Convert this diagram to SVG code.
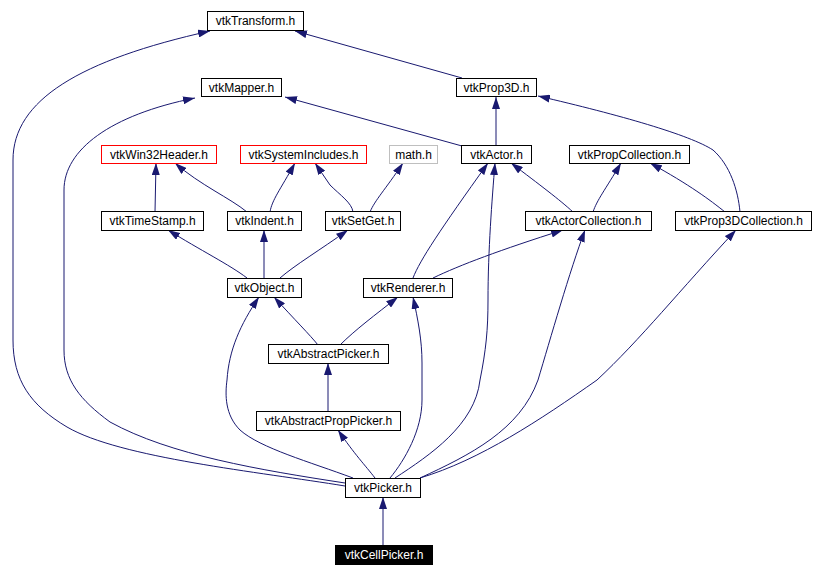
<svg xmlns="http://www.w3.org/2000/svg" width="813" height="576" viewBox="0 0 813 576">
<style>
.n rect{fill:#fff;stroke:#000;stroke-width:1}
.n text{font-family:"Liberation Sans",Arial,sans-serif;font-size:12px;text-anchor:middle;fill:#000}
.red rect{stroke:#ff0000}
.grey rect{stroke:#bfbfbf}
.root rect{fill:#000;stroke:#000}
.root text{fill:#fff}
.e path{fill:none;stroke:#191970;stroke-width:1;marker-end:url(#a)}
</style>
<defs>
<marker id="a" viewBox="0 0 12 8" refX="12" refY="4" markerWidth="12" markerHeight="8" markerUnits="userSpaceOnUse" orient="auto">
<path d="M0,0 L12,4 L0,8 z" fill="#191970"/>
</marker>
</defs>
<rect width="813" height="576" fill="#fff"/>
<g class="e" id="edges">
<path d="M345,486 C260,472 120,458 67,427 C30,405 13,380 13,340 L13,160 C13,100 80,60 210,31"/>
<path d="M345,483 C260,470 170,455 110,422 C80,400 64,380 64,350 L64,190 C64,150 110,115 195,98"/>
<path d="M462,78 L295,31"/>
<path d="M462,146 L285,97"/>
<path d="M496,146 L496,97"/>
<path d="M740,212 C738,190 730,165 713,150 C690,135 620,115 538,96"/>
<path d="M155,212 L156,163"/>
<path d="M247,212 C230,198 200,185 175,163"/>
<path d="M270,212 C272,200 280,190 295,163"/>
<path d="M353,212 C352,203 340,195 330,185 L315,163"/>
<path d="M370,212 C375,200 385,190 403,163"/>
<path d="M573,212 C560,200 540,185 511,163"/>
<path d="M593,212 C597,200 605,190 621,163"/>
<path d="M725,212 C710,200 690,185 650,163"/>
<path d="M413,278 C420,260 440,230 488,163"/>
<path d="M433,278 C460,265 500,250 563,230"/>
<path d="M395,478 C430,455 475,425 480,380 C486,350 488,330 488,300 C488,250 492,200 495,163"/>
<path d="M420,478 C470,455 520,430 538,380 C550,340 570,270 585,230"/>
<path d="M420,478 C480,460 540,420 597,380 C640,340 680,290 736,230"/>
<path d="M247,278 C230,265 200,250 168,230"/>
<path d="M264,278 L264,230"/>
<path d="M280,278 C295,265 320,250 348,230"/>
<path d="M318,345 C310,335 295,320 274,297"/>
<path d="M340,345 C355,330 375,315 398,297"/>
<path d="M353,478 C310,462 260,448 240,430 C225,415 225,395 227,380 C229,350 240,325 259,297"/>
<path d="M390,478 C405,460 422,430 422,400 L422,363 C422,340 418,320 413,297"/>
<path d="M328,412 L328,363"/>
<path d="M375,478 C365,465 355,455 338,430"/>
<path d="M383,545 L383,497"/>
</g>
<g class="n" id="vtkTransform"><rect x="207.5" y="11.5" width="96" height="19"/><text x="255.5" y="25">vtkTransform.h</text></g>
<g class="n" id="vtkMapper"><rect x="201.5" y="78.5" width="80" height="18"/><text x="241.5" y="91.5">vtkMapper.h</text></g>
<g class="n" id="vtkProp3D"><rect x="456.5" y="78.5" width="80" height="18"/><text x="496.5" y="91.5">vtkProp3D.h</text></g>
<g class="n red" id="vtkWin32Header"><rect x="101.5" y="145.5" width="115" height="18"/><text x="159" y="158.5">vtkWin32Header.h</text></g>
<g class="n red" id="vtkSystemIncludes"><rect x="240.5" y="145.5" width="126" height="18"/><text x="303.5" y="158.5">vtkSystemIncludes.h</text></g>
<g class="n grey" id="math"><rect x="389.5" y="145.5" width="48" height="18"/><text x="413.5" y="158.5">math.h</text></g>
<g class="n" id="vtkActor"><rect x="461.5" y="145.5" width="70" height="18"/><text x="496.5" y="158.5">vtkActor.h</text></g>
<g class="n" id="vtkPropCollection"><rect x="569.5" y="145.5" width="120" height="18"/><text x="629.5" y="158.5">vtkPropCollection.h</text></g>
<g class="n" id="vtkTimeStamp"><rect x="101.5" y="211.5" width="102" height="19"/><text x="152.5" y="225">vtkTimeStamp.h</text></g>
<g class="n" id="vtkIndent"><rect x="227.5" y="211.5" width="74" height="19"/><text x="264.5" y="225">vtkIndent.h</text></g>
<g class="n" id="vtkSetGet"><rect x="325.5" y="211.5" width="75" height="19"/><text x="363" y="225">vtkSetGet.h</text></g>
<g class="n" id="vtkActorCollection"><rect x="525.5" y="211.5" width="126" height="19"/><text x="588.5" y="225">vtkActorCollection.h</text></g>
<g class="n" id="vtkProp3DCollection"><rect x="675.5" y="211.5" width="136" height="19"/><text x="743.5" y="225">vtkProp3DCollection.h</text></g>
<g class="n" id="vtkObject"><rect x="227.5" y="278.5" width="74" height="19"/><text x="264.5" y="292">vtkObject.h</text></g>
<g class="n" id="vtkRenderer"><rect x="363.5" y="278.5" width="89" height="19"/><text x="408" y="292">vtkRenderer.h</text></g>
<g class="n" id="vtkAbstractPicker"><rect x="268.5" y="344.5" width="120" height="19"/><text x="328.5" y="358">vtkAbstractPicker.h</text></g>
<g class="n" id="vtkAbstractPropPicker"><rect x="256.5" y="411.5" width="144" height="19"/><text x="328.5" y="425">vtkAbstractPropPicker.h</text></g>
<g class="n" id="vtkPicker"><rect x="345.5" y="478.5" width="75" height="19"/><text x="383" y="492">vtkPicker.h</text></g>
<g class="n root" id="vtkCellPicker"><rect x="335.5" y="545.5" width="97" height="19"/><text x="384" y="559">vtkCellPicker.h</text></g>
</svg>
